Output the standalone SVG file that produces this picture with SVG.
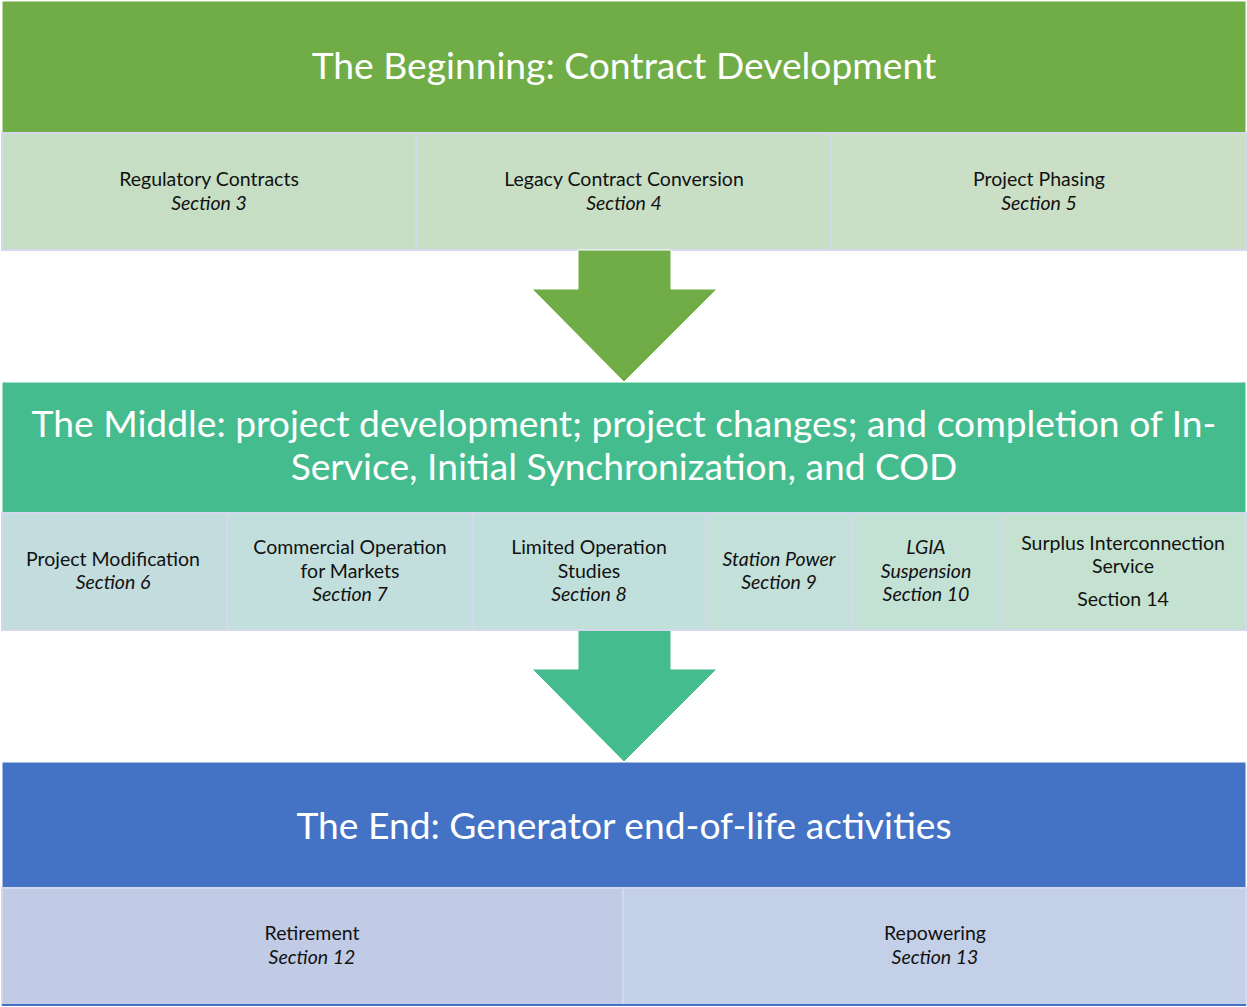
<svg xmlns="http://www.w3.org/2000/svg" width="1247" height="1007" viewBox="0 0 1247 1007">
<style>
.hdr{font-family:Lato,"Open Sans","Liberation Sans",sans-serif;font-size:37.2px;fill:#ffffff;text-anchor:middle}
.t{font-family:Lato,"Open Sans","Liberation Sans",sans-serif;font-size:19.5px;fill:#111111;text-anchor:middle}
.i{font-style:italic}
.box{stroke:#D3D8EC;stroke-width:2}
.hbox{stroke:#ffffff;stroke-width:1}
</style>
<rect width="1247" height="1007" fill="#ffffff"/>
<g id="beginning">
<rect class="hbox" x="2" y="1" width="1244" height="132" fill="#70AD47"/>
<text class="hdr" x="624" y="79">The Beginning: Contract Development</text>
</g>
<g id="regulatory">
<rect class="box" x="2" y="133" width="414" height="117" fill="#C6DFC4"/>
<text class="t" x="209" y="186">Regulatory Contracts</text>
<text class="t i" x="209" y="210">Section 3</text>
</g>
<g id="legacy">
<rect class="box" x="416" y="133" width="415" height="117" fill="#C8DFC5"/>
<text class="t" x="624" y="186">Legacy Contract Conversion</text>
<text class="t i" x="624" y="210">Section 4</text>
</g>
<g id="phasing">
<rect class="box" x="831" y="133" width="415" height="117" fill="#CADFC6"/>
<text class="t" x="1039" y="186">Project Phasing</text>
<text class="t i" x="1039" y="210">Section 5</text>
</g>
<g id="connectors">
<polygon points="578,250 671,250 671,289 717,289 624,382 532,289 578,289" fill="#70AD47" stroke="#ffffff" stroke-width="1"/>
<polygon points="578,630 671,630 671,669 717,669 624,762 532,669 578,669" fill="#45BC8D" stroke="#ffffff" stroke-width="1"/>
</g>
<g id="middle">
<rect class="hbox" x="2" y="382" width="1244" height="131" fill="#45BC8D"/>
<text class="hdr" x="624" y="437">The Middle: project development; project changes; and completion of In-</text>
<text class="hdr" x="624" y="480">Service, Initial Synchronization, and COD</text>
</g>
<g id="modification">
<rect class="box" x="2" y="513" width="225" height="117" fill="#C3DCDE"/>
<text class="t" x="113" y="566">Project Modification</text>
<text class="t i" x="113" y="589">Section 6</text>
</g>
<g id="commercial">
<rect class="box" x="227" y="513" width="246" height="117" fill="#C2DFDD"/>
<text class="t" x="350" y="554">Commercial Operation</text>
<text class="t" x="350" y="578">for Markets</text>
<text class="t i" x="350" y="601">Section 7</text>
</g>
<g id="limited">
<rect class="box" x="473" y="513" width="233" height="117" fill="#C2E0DB"/>
<text class="t" x="589" y="554">Limited Operation</text>
<text class="t" x="589" y="578">Studies</text>
<text class="t i" x="589" y="601">Section 8</text>
</g>
<g id="station">
<rect class="box" x="706" y="513" width="146" height="117" fill="#C3E0D9"/>
<text class="t i" x="779" y="566">Station Power</text>
<text class="t i" x="779" y="589">Section 9</text>
</g>
<g id="lgia">
<rect class="box" x="852" y="513" width="151" height="117" fill="#C4E1D6"/>
<text class="t i" x="926" y="554">LGIA</text>
<text class="t i" x="926" y="578">Suspension</text>
<text class="t i" x="926" y="601">Section 10</text>
</g>
<g id="surplus">
<rect class="box" x="1003" y="513" width="243" height="117" fill="#C5E2D0"/>
<text class="t" x="1123" y="550">Surplus Interconnection</text>
<text class="t" x="1123" y="573">Service</text>
<text class="t" x="1123" y="606">Section 14</text>
</g>
<g id="end">
<rect class="hbox" x="2" y="762" width="1244" height="126" fill="#4472C4"/>
<text class="hdr" x="624" y="839">The End: Generator end-of-life activities</text>
</g>
<g id="retirement">
<rect class="box" x="2" y="888" width="621" height="117" fill="#C1CBE6"/>
<text class="t" x="312" y="940">Retirement</text>
<text class="t i" x="312" y="964">Section 12</text>
</g>
<g id="repowering">
<rect class="box" x="623" y="888" width="623" height="117" fill="#C3D0E7"/>
<text class="t" x="935" y="940">Repowering</text>
<text class="t i" x="935" y="964">Section 13</text>
</g>
<line x1="2" y1="1005" x2="1246" y2="1005" stroke="#4472C4" stroke-width="2"/>
</svg>
